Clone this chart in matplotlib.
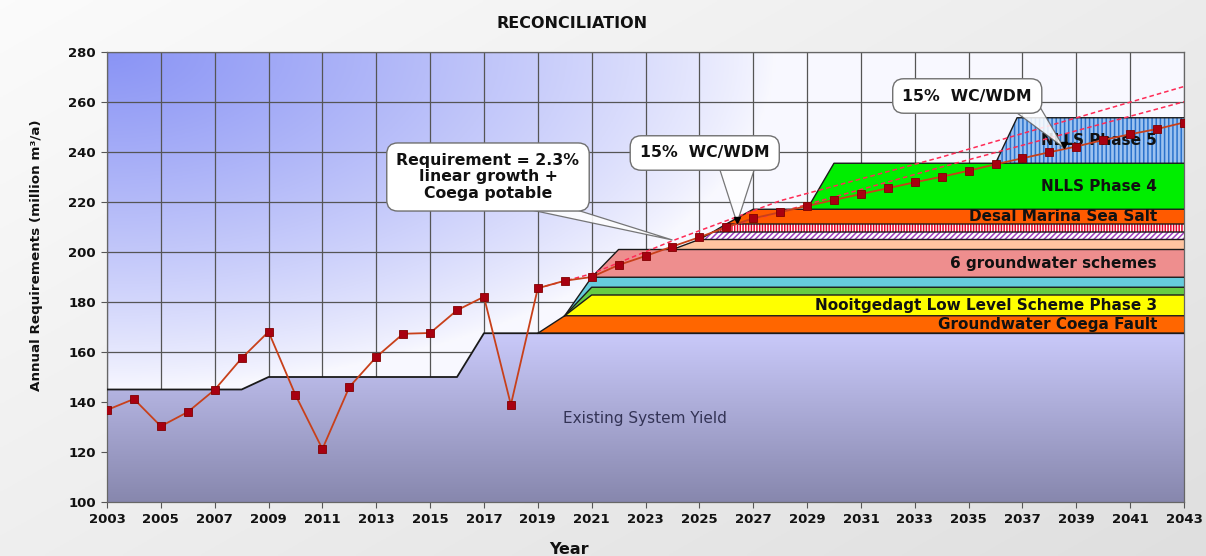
import numpy as np
import matplotlib
matplotlib.use("Agg")
import matplotlib.pyplot as plt
from matplotlib.patches import Polygon

# ---------------- data ----------------
years = list(range(2003, 2044))
requirement = [136.8, 141.2, 130.3, 136.0, 144.9, 157.5, 168.1, 142.8, 121.2, 146.0,
               158.0, 167.3, 167.6, 176.7, 182.1, 138.9, 185.5, 188.5, 190.0, 194.8,
               198.4, 202.2, 205.9, 209.9, 213.5, 215.9, 218.4, 220.8, 223.2, 225.5,
               227.9, 230.1, 232.5, 235.1, 237.5, 239.9, 242.2, 244.8, 247.1, 249.2, 251.8]

yield_years = [2003, 2008, 2009, 2016, 2017, 2043]
yield_vals = [145.0, 145.0, 150.0, 150.0, 167.5, 167.5]

layer_names = ["Groundwater Coega Fault", "Nooitgedagt Low Level Scheme Phase 3", "", "",
               "6 groundwater schemes", "", "", "", "Desal Marina Sea Salt",
               "NLLS Phase 4", "NLLS Phase 5"]
layer_sizes = [7.0, 8.3, 3.1, 4.0, 11.1, 4.0, 3.0, 3.2, 5.9, 18.4, 18.2]
layer_start = [2019, 2020, 2020, 2020, 2021, 2024, 2025, 2025.5, 2026, 2029, 2036]
layer_full = [2020, 2021, 2021, 2021, 2022, 2025, 2025.5, 2026, 2027, 2030, 2036.8]

upper_years = [2019, 2021, 2024, 2028, 2034, 2043]
upper_vals = [185.5, 191.3, 204.5, 220.5, 238.0, 266.2]
lower_years = [2026, 2034, 2043]
lower_vals = [210.0, 234.0, 260.1]

callout_texts = ["Requirement = 2.3%\nlinear growth +\nCoega potable", "15%  WC/WDM", "15%  WC/WDM"]
callout_pos = [(2017.15, 230.0), (2025.2, 239.6), (2034.95, 262.4)]
callout_tips = [(2024.0, 204.8), (2026.4, 211.6), (2038.55, 241.6)]
callout_base = [((2017.8, 219.0), (2019.8, 219.0)),
                ((2025.7, 235.0), (2027.1, 235.0)),
                ((2036.5, 258.0), (2037.65, 258.0))]

# ---------------- styles ----------------
layer_face = ['#FF6600', '#FFFF00', '#66CC44', '#66CCDD', '#EE8E8E', '#FFC4A0',
              '#FFFFFF', '#FFFFFF', '#FF5A00', '#00EE00', '#9CC2F0']
layer_hatch = [None, None, None, None, None, None, '//////', '||||||', None, None, '||||']
layer_hcol = [None, None, None, None, None, None, '#A040C0', '#E8002A', None, None, '#2A72CC']

plt.rcParams['font.family'] = ['DejaVu Sans']
plt.rcParams['hatch.linewidth'] = 1.1

W, H = 12.06, 5.56
fig = plt.figure(figsize=(W, H), dpi=100)

# figure background gradient
bg = fig.add_axes([0, 0, 1, 1], zorder=-10)
gy, gx = np.mgrid[0:1:200j, 0:1:400j]
g = 0.985 - 0.11 * (0.55 * gx + 0.45 * gy)
bg.imshow(np.dstack([g, g, g]), extent=[0, 1, 0, 1], aspect='auto', origin='upper')
bg.set_axis_off()

L, R, T, B = 107, 1184, 52, 502
ax = fig.add_axes([L / 1206, 1 - B / 556, (R - L) / 1206, (B - T) / 556])
ax.set_facecolor('none')

# plot-area gradient (blue top-left -> white)
vy, ux = np.mgrid[0:1:200j, 0:1:400j]
s = np.clip(1 - np.sqrt((ux / 0.62) ** 2 + (vy / 0.75) ** 2), 0, 1) ** 0.8
light = np.array([0.975, 0.975, 1.0])
blue = np.array([0.54, 0.58, 0.96])
img = light[None, None, :] * (1 - s[..., None]) + blue[None, None, :] * s[..., None]
ax.imshow(img, extent=[0, 1, 0, 1], transform=ax.transAxes, aspect='auto',
          origin='upper', zorder=0.1)

xmin, xmax, ymin, ymax = 2003, 2043, 100, 280

# existing system yield with vertical gradient
ypoly = list(zip(yield_years, yield_vals)) + [(2043, 100), (2003, 100)]
clip = Polygon(ypoly, closed=True, facecolor='none', edgecolor='none', transform=ax.transData)
ax.add_patch(clip)
t = np.linspace(0, 1, 256)[:, None]
top_c = np.array([0.79, 0.79, 0.98])
bot_c = np.array([0.53, 0.53, 0.68])
yimg = top_c[None, None, :] * (1 - t[..., None]) + bot_c[None, None, :] * t[..., None]
yimg = np.repeat(yimg, 4, axis=1)
im = ax.imshow(yimg, extent=[2003, 2043, 100, 167.5], aspect='auto', origin='upper', zorder=1.5)
im.set_clip_path(clip)
ax.plot(yield_years, yield_vals, color='#1a1a1a', lw=1.3, zorder=3)

# stacked augmentation layers
xg = np.array(sorted(set([2003, 2043] + yield_years + layer_start + layer_full)), float)
base = np.interp(xg, yield_years, yield_vals)
for i in range(len(layer_sizes)):
    inc = np.interp(xg, [layer_start[i], layer_full[i]], [0, layer_sizes[i]])
    top = base + inc
    m = xg >= layer_start[i]
    xs, lo, hi = xg[m], base[m], top[m]
    px = np.concatenate([xs, xs[::-1]])
    py = np.concatenate([hi, lo[::-1]])
    if layer_hatch[i]:
        ax.fill(px, py, facecolor=layer_face[i], edgecolor=layer_hcol[i],
                hatch=layer_hatch[i], lw=0, zorder=2)
    else:
        ax.fill(px, py, facecolor=layer_face[i], edgecolor='none', lw=0, zorder=2)
    ax.plot(xs, hi, color='#1a1a1a', lw=1.0, zorder=3)
    if layer_names[i]:
        ax.text(2042.0, (base[-1] + top[-1]) / 2, layer_names[i], ha='right', va='center',
                fontsize=11, fontweight='bold', color='#111111', zorder=4)
    base = top

ax.text(2022.98, 133.6, "Existing System Yield", ha='center', va='center',
        fontsize=11, color='#333355', zorder=4)

# dashed projections
ax.plot(upper_years, upper_vals, color='#FF2A55', lw=1.1, ls=(0, (3, 2)), zorder=5)
ax.plot(lower_years, lower_vals, color='#FF2A55', lw=1.1, ls=(0, (3, 2)), zorder=5)

# requirement line
ax.plot(years, requirement, color='#C8401A', lw=1.3, zorder=6)
ax.plot(years, requirement, ls='none', marker='s', ms=5.2, mfc='#A80010', mec='#800000',
        mew=0.6, zorder=7)

# callouts
for txt, pos, tip, bs in zip(callout_texts, callout_pos, callout_tips, callout_base):
    tail = Polygon([bs[0], tip, bs[1]], closed=True, facecolor='white', alpha=0.85,
                   edgecolor='#606060', lw=0.9, zorder=9)
    ax.add_patch(tail)
    ax.text(pos[0], pos[1], txt, ha='center', va='center', multialignment='center',
            fontsize=11.3, fontweight='bold', color='#111111', linespacing=1.15,
            bbox=dict(boxstyle='round,pad=0.62,rounding_size=0.7', fc='white',
                      ec='#707070', lw=1.0),
            zorder=10)
for tip in callout_tips[1:]:
    ax.plot([tip[0]], [tip[1] + 1.2], marker='v', color='black', ms=5, zorder=11)

# axes, grid and ticks
ax.set_xlim(xmin, xmax)
ax.set_ylim(ymin, ymax)
ax.set_xticks(range(2003, 2044, 2))
ax.set_yticks(range(100, 281, 20))
ax.set_axisbelow(True)
ax.grid(True, color='#555555', lw=0.9, zorder=0.5)
for sp in ax.spines.values():
    sp.set_color('#666666')
    sp.set_linewidth(0.9)
ax.tick_params(axis='both', direction='out', length=4, width=0.8, color='#555555',
               labelsize=9.5, pad=4)
for lab in ax.get_xticklabels() + ax.get_yticklabels():
    lab.set_fontweight('bold')
    lab.set_color('#111111')

fig.text(572 / 1206, 1 - 23 / 556, "RECONCILIATION", ha='center', va='center',
         fontsize=11.5, fontweight='bold', color='#111111')
fig.text(37 / 1206, 1 - 255 / 556, "Annual Requirements (million m³/a)", rotation=90,
         ha='center', va='center', fontsize=9.7, fontweight='bold', color='#111111')
fig.text(569 / 1206, 1 - 549 / 556, "Year", ha='center', va='center',
         fontsize=11.5, fontweight='bold', color='#111111')

fig.savefig("out.png", dpi=100)
